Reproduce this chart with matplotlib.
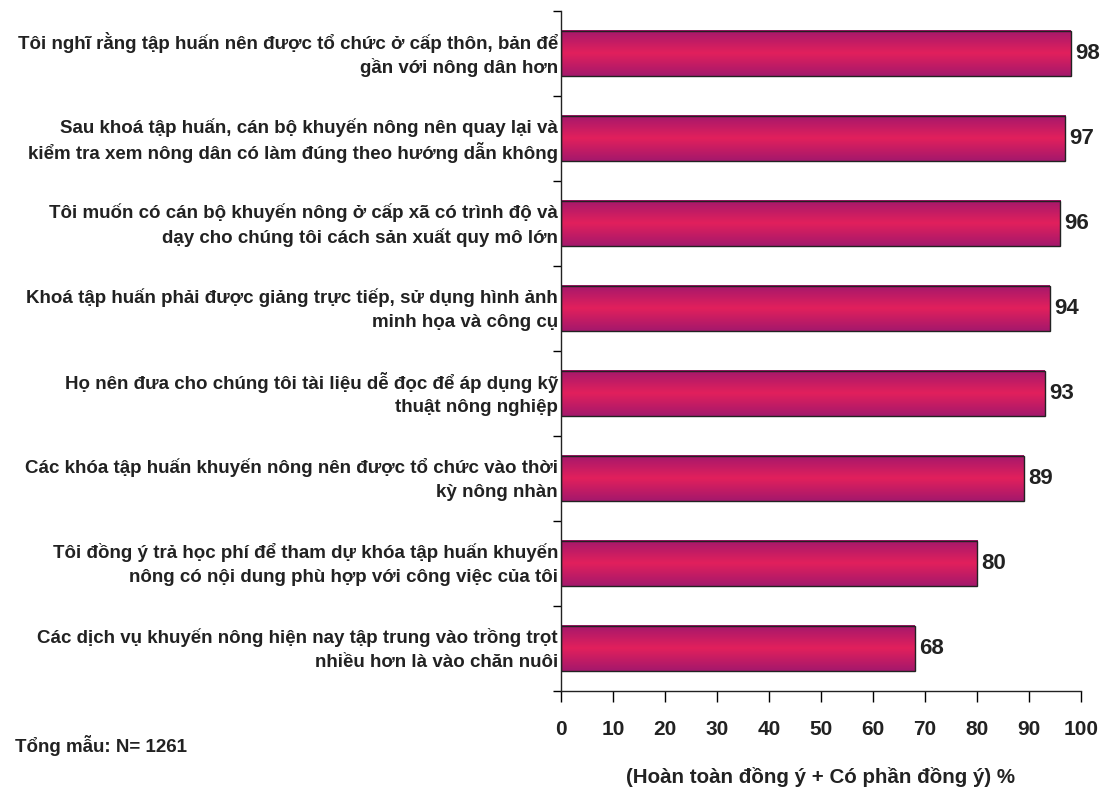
import numpy as np
import matplotlib.pyplot as plt
from matplotlib.colors import LinearSegmentedColormap
from matplotlib.transforms import offset_copy

plt.rcParams['font.family'] = ['Liberation Sans', 'DejaVu Sans']
plt.rcParams['font.weight'] = 'bold'

# nhãn các ý kiến (từ trên xuống)
labels = [
    "Tôi nghĩ rằng tập huấn nên được tổ chức ở cấp thôn, bản để\ngần với nông dân hơn",
    "Sau khoá tập huấn, cán bộ khuyến nông nên quay lại và\nkiểm tra xem nông dân có làm đúng theo hướng dẫn không",
    "Tôi muốn có cán bộ khuyến nông ở cấp xã có trình độ và\ndạy cho chúng tôi cách sản xuất quy mô lớn",
    "Khoá tập huấn phải được giảng trực tiếp, sử dụng hình ảnh\nminh họa và công cụ",
    "Họ nên đưa cho chúng tôi tài liệu dễ đọc để áp dụng kỹ\nthuật nông nghiệp",
    "Các khóa tập huấn khuyến nông nên được tổ chức vào thời\nkỳ nông nhàn",
    "Tôi đồng ý trả học phí để tham dự khóa tập huấn khuyến\nnông có nội dung phù hợp với công việc của tôi",
    "Các dịch vụ khuyến nông hiện nay tập trung vào trồng trọt\nnhiều hơn là vào chăn nuôi",
]
values = [98, 97, 96, 94, 93, 89, 80, 68]
xticks = [0, 10, 20, 30, 40, 50, 60, 70, 80, 90, 100]

fig = plt.figure(figsize=(11.06, 7.87), dpi=100)
ax = fig.add_axes([0.5072, 0.122, 0.4702, 0.864])

n = len(values)
ypos = np.arange(n)[::-1]
h = 0.53

# màu chuyển: tối ở mép, sáng ở giữa thanh
cmap = LinearSegmentedColormap.from_list('mag', ['#a4186c', '#e2205c', '#a4186c'])
grad = np.linspace(0, 1, 256).reshape(-1, 1)

# mỗi dòng nhãn vẽ riêng để khoảng cách dòng đều nhau
line_tr = [offset_copy(ax.get_yaxis_transform(), fig=fig, x=-3, y=dy, units='dots')
           for dy in (13, -12)]

for y, v, lab in zip(ypos, values, labels):
    ax.imshow(grad, cmap=cmap, aspect='auto', extent=(0, v, y - h / 2, y + h / 2),
              zorder=2, interpolation='bicubic')
    ax.barh(y, v, height=h, facecolor='none', edgecolor='#222222', linewidth=1.0, zorder=3)
    ax.text(v + 0.8, y, str(v), va='center', ha='left', fontsize=16, fontweight='bold',
            color='#222222')
    for line, tr in zip(lab.split('\n'), line_tr):
        ax.text(0, y, line, transform=tr, ha='right', va='center_baseline',
                fontsize=13.5, fontweight='bold', color='#222222')

ax.set_xlim(0, 100)
ax.set_ylim(-0.5, n - 0.5)

ax.set_yticks([])
ax.set_yticks(np.arange(n + 1) - 0.5, minor=True)
ax.tick_params(axis='y', which='minor', length=6, width=1, direction='out')

ax.set_xticks(xticks)
ax.set_xticklabels([str(t) for t in xticks], fontsize=15, fontweight='bold', color='#222222')
ax.tick_params(axis='x', length=8, width=1, direction='out', pad=13)

for s in ['top', 'right']:
    ax.spines[s].set_visible(False)
for s in ['left', 'bottom']:
    ax.spines[s].set_linewidth(1.0)
    ax.spines[s].set_color('#222222')

ax.set_xlabel("(Hoàn toàn đồng ý + Có phần đồng ý) %", fontsize=14.8, fontweight='bold',
              color='#222222', labelpad=20)

fig.text(15 / 1106, 1 - 745 / 787, "Tổng mẫu: N= 1261", fontsize=13.5, fontweight='bold',
         color='#222222', va='center', ha='left')

fig.savefig('out.png', dpi=100)
